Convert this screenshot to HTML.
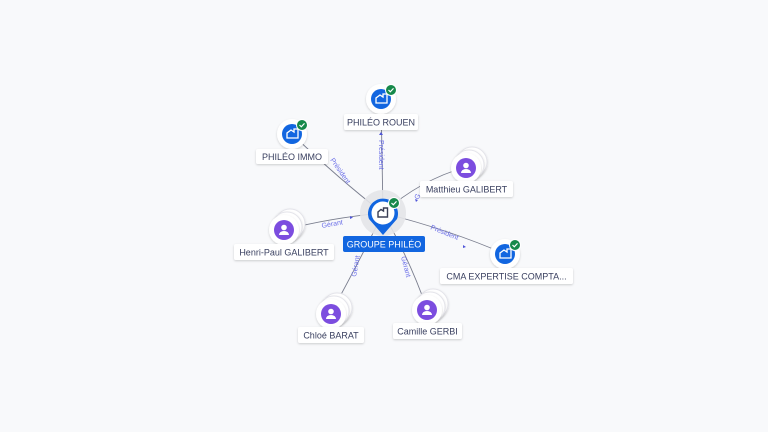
<!DOCTYPE html>
<html><head><meta charset="utf-8"><style>
html,body{margin:0;padding:0;background:#f8f9fb;}
svg{display:block;font-family:"Liberation Sans",sans-serif;}
</style></head><body>
<svg width="768" height="432" viewBox="0 0 768 432" xmlns="http://www.w3.org/2000/svg">
<defs>
<filter id="sh" x="-30%" y="-30%" width="160%" height="160%"><feDropShadow dx="0" dy="1" stdDeviation="1" flood-color="#000" flood-opacity="0.18"/></filter>
<g id="person">
 <circle cx="6" cy="-6" r="15" fill="#fff" stroke="#e4e4ea" filter="url(#sh)"/>
 <circle cx="3" cy="-3" r="15" fill="#fff" stroke="#e4e4ea" filter="url(#sh)"/>
 <circle cx="0" cy="0" r="15" fill="#fff" filter="url(#sh)"/>
 <circle cx="0" cy="0" r="10" fill="#7c4ddf"/>
 <circle cx="0" cy="-2.5" r="2.8" fill="#fff"/>
 <path d="M-5,5 a5,4 0 0 1 10,0 z" fill="#fff"/>
</g>
<g id="comp">
 <circle cx="0" cy="0" r="15" fill="#fff" filter="url(#sh)"/>
 <circle cx="0" cy="0" r="10" fill="#1266e0"/>
 <path d="M-5,4 v-5 l4,-3 l3,2 v-3 h4 v9 z" fill="none" stroke="#fff" stroke-width="1.3"/>
 <circle cx="10" cy="-9" r="5.5" fill="#16894a" stroke="#fff" stroke-width="1"/>
 <path d="M7.5,-9 l1.8,1.8 l3.2,-3.4" fill="none" stroke="#fff" stroke-width="1.2"/>
</g>
</defs>
<g stroke="#7a7e8e" stroke-width="0.9" fill="none">
 <line x1="383" y1="213" x2="381" y2="99"/>
 <path d="M383,213 Q340,180 292,134"/>
 <path d="M383,213 Q420,180 466,167"/>
 <path d="M383,213 Q330,218 284,230"/>
 <path d="M383,213 Q450,230 505,254"/>
 <path d="M383,213 Q360,260 331,313"/>
 <path d="M383,213 Q410,260 427,309"/>
</g>
<g font-size="7" fill="#6a6ee8">
 <text transform="translate(379,140) rotate(90)">Président</text>
 <text transform="translate(330,160) rotate(55)">Président</text>
 <text transform="translate(322,228) rotate(-10)">Gérant</text>
 <text transform="translate(430,229) rotate(22)">Président</text>
 <text transform="translate(356,277) rotate(-80)">Gérant</text>
 <text transform="translate(401,257) rotate(75)">Gérant</text>
 <text transform="translate(418,200) rotate(-60)">G</text>
</g>
<g fill="#4f55d8">
 <path d="M381,132 l-2,3 h4z"/><path d="M350,216 l3,1.5 l-3,1.5z"/><path d="M463,245 l3,2 l-3,1z"/><path d="M416,202 l-1,-3 l3,1z"/>
</g>
<use href="#comp" x="381" y="99"/>
<use href="#comp" x="292" y="134"/>
<use href="#comp" x="505" y="254"/>
<use href="#person" x="466" y="168"/>
<use href="#person" x="284" y="230"/>
<use href="#person" x="331" y="314"/>
<use href="#person" x="427" y="310"/>
<circle cx="383" cy="213" r="23" fill="#e3e4e8" opacity="0.9"/>
<path d="M369,219 A15,15 0 1 1 397,219 L383,235 Z" fill="#1266e0"/>
<circle cx="383" cy="213" r="11.5" fill="#fff"/>
<path d="M378,217 v-5 l3,-2.5 l2.5,1.5 v-3 h4 v9 z" fill="none" stroke="#3a3f55" stroke-width="1.4"/>
<circle cx="394" cy="203" r="5.5" fill="#16894a" stroke="#fff"/>
<path d="M391.5,203 l1.8,1.8 l3.2,-3.4" fill="none" stroke="#fff" stroke-width="1.2"/>
<g font-size="9" fill="#3a4060" text-anchor="middle">
 <rect x="344" y="114" width="74" height="16" rx="2" fill="#fff" filter="url(#sh)"/><text x="381" y="125.5">PHILÉO ROUEN</text>
 <rect x="256" y="149" width="72" height="15" rx="2" fill="#fff" filter="url(#sh)"/><text x="292" y="160">PHILÉO IMMO</text>
 <rect x="420" y="181" width="93" height="16" rx="2" fill="#fff" filter="url(#sh)"/><text x="466.5" y="192.5">Matthieu GALIBERT</text>
 <rect x="234" y="244" width="100" height="16" rx="2" fill="#fff" filter="url(#sh)"/><text x="284" y="255.5">Henri-Paul GALIBERT</text>
 <rect x="440" y="268" width="133" height="16" rx="2" fill="#fff" filter="url(#sh)"/><text x="506.5" y="279.5">CMA EXPERTISE COMPTA...</text>
 <rect x="298" y="327" width="66" height="16" rx="2" fill="#fff" filter="url(#sh)"/><text x="331" y="338.5">Chloé BARAT</text>
 <rect x="393" y="323" width="69" height="16" rx="2" fill="#fff" filter="url(#sh)"/><text x="427.5" y="334.5">Camille GERBI</text>
 <rect x="343" y="236" width="82" height="16" rx="2" fill="#1266e0"/><text x="384" y="247.5" fill="#fff">GROUPE PHILÉO</text>
</g>
</svg>
</body></html>
